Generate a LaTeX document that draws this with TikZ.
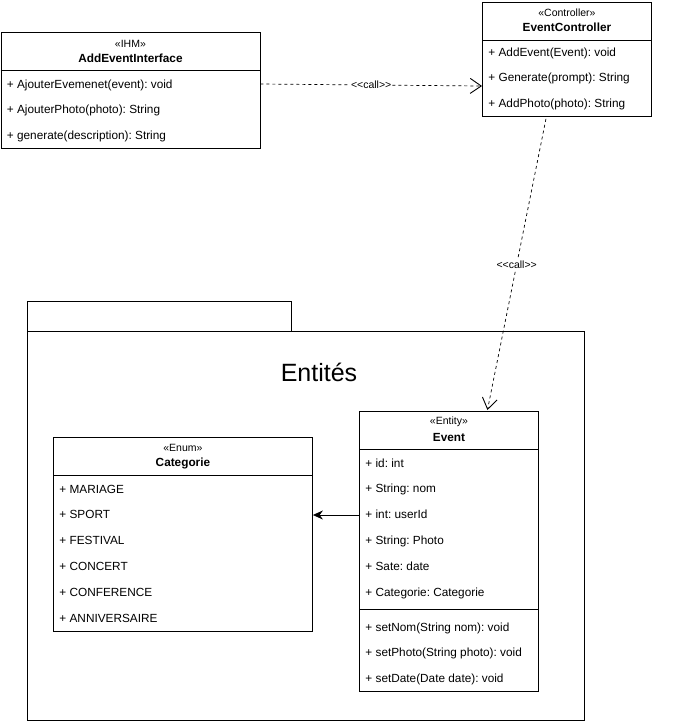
\documentclass[tikz,border=0pt]{standalone}
\usepackage{fontspec}
\setmainfont{Liberation Sans}
\usetikzlibrary{arrows.meta,positioning,calc}

\begin{document}
\frenchspacing
\begin{tikzpicture}[x=1pt,y=-1pt,line width=0.9pt,font=\fontsize{11.8}{13}\selectfont,
  box/.style={draw,anchor=north west,inner sep=0pt},
  row/.style={anchor=base west,inner sep=0pt},
  stereo/.style={font=\fontsize{10.5}{12}\selectfont},
  cname/.style={font=\fontsize{11.8}{13}\selectfont\bfseries},
  call/.style={dashed,line width=0.7pt,-{Straight Barb[length=11pt,width=15pt,line width=0.9pt]}},
  calllbl/.style={fill=white,inner sep=1pt,font=\fontsize{10.5}{12}\selectfont}]
\useasboundingbox (0,0) rectangle (680,721);

% package
\draw (27,301) rectangle (291,331);
\node[box,minimum width=557pt,minimum height=389pt] (pkg) at (27,331) {};
\node[font=\fontsize{25}{28}\selectfont] (pkgname) at (319,372) {Entités};

% AddEventInterface
\node[box,minimum width=259pt,minimum height=116pt] (ihm) at (0.5,32) {};
\draw ($(ihm.north west)+(0,38)$) -- ($(ihm.north east)+(0,38)$);
\node[stereo] (ihm-st) at ($(ihm.north)+(0,12)$) {«IHM»};
\node[cname] (ihm-nm) at ($(ihm.north)+(0,26)$) {AddEventInterface};
\foreach \t [count=\i] in {+ AjouterEvemenet(event): void,+ AjouterPhoto(photo): String,+ generate(description): String}
  \node[row] (ihm-\i) at ($(ihm.north west)+(6,56+25.7*\i-25.7)$) {\t};

% EventController
\node[box,minimum width=169pt,minimum height=114pt] (ctrl) at (482,2) {};
\draw ($(ctrl.north west)+(0,38)$) -- ($(ctrl.north east)+(0,38)$);
\node[stereo] (ctrl-st) at ($(ctrl.north)+(0,11)$) {«Controller»};
\node[cname] (ctrl-nm) at ($(ctrl.north)+(0,25)$) {EventController};
\foreach \t [count=\i] in {+ AddEvent(Event): void,+ Generate(prompt): String,+ AddPhoto(photo): String}
  \node[row] (ctrl-\i) at ($(ctrl.north west)+(6,54+25.7*\i-25.7)$) {\t};

% Event
\node[box,minimum width=179pt,minimum height=280pt] (event) at (359,411) {};
\draw ($(event.north west)+(0,38)$) -- ($(event.north east)+(0,38)$);
\draw ($(event.north west)+(0,198)$) -- ($(event.north east)+(0,198)$);
\node[stereo] (event-st) at ($(event.north)+(0,11)$) {«Entity»};
\node[cname] (event-nm) at ($(event.north)+(0,26)$) {Event};
\foreach \t [count=\i] in {+ id: int,+ String: nom,+ int: userId,+ String: Photo,+ Sate: date,+ Categorie: Categorie}
  \node[row] (event-\i) at ($(event.north west)+(6,56+25.8*\i-25.8)$) {\t};
\foreach \t [count=\i] in {+ setNom(String nom): void,+ setPhoto(String photo): void,+ setDate(Date date): void}
  \node[row] (event-m\i) at ($(event.north west)+(6,220+25.7*\i-25.7)$) {\t};

% Categorie
\node[box,minimum width=259pt,minimum height=194pt] (cat) at (53,437) {};
\draw ($(cat.north west)+(0,38)$) -- ($(cat.north east)+(0,38)$);
\node[stereo] (cat-st) at ($(cat.north)+(0,11)$) {«Enum»};
\node[cname] (cat-nm) at ($(cat.north)+(0,26)$) {Categorie};
\foreach \t [count=\i] in {+ MARIAGE,+ SPORT,+ FESTIVAL,+ CONCERT,+ CONFERENCE,+ ANNIVERSAIRE}
  \node[row] (cat-\i) at ($(cat.north west)+(6,56+25.8*\i-25.8)$) {\t};

% links
\draw[call] ($(ihm.north east)+(0,52)$) -- node[calllbl] {<{}<call>{}>} ($(ctrl.north west)+(0,84)$);
\draw[call] ($(ctrl.south)+(-21,2)$) -- node[calllbl] {<{}<call>{}>} ($(event.north)+(38.5,-1)$);
\draw[-{Stealth[length=10pt,width=9pt]}] ($(event.north west)+(0,104)$) -- ($(cat.north east)+(0,78)$);
\end{tikzpicture}
\end{document}
